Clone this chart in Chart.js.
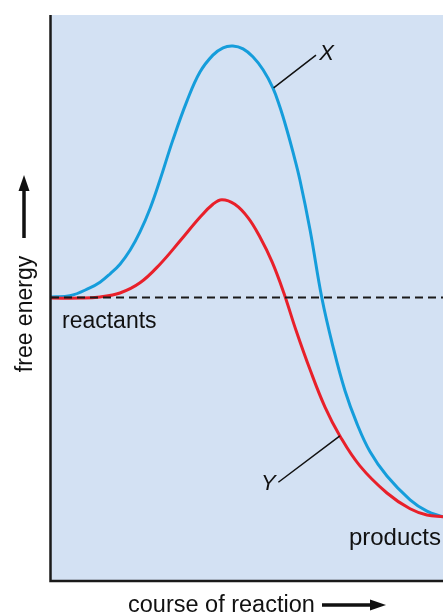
<!DOCTYPE html>
<html>
<head>
<meta charset="utf-8">
<script src="https://cdn.jsdelivr.net/npm/chart.js@4"></script>
<style>
  html, body { margin: 0; padding: 0; background: #fff; }
  #energyChart { display: block; }
</style>
</head>
<body>
<canvas id="energyChart" width="443" height="615"></canvas>
<script>
// ===================== DATA =====================
// course of reaction (0..100) and free energy (0..100)
const courseX = [0, 4.8, 9.9, 12.5, 15.1, 17.6, 20.2, 22.7, 25.3, 27.8, 31.1, 34.7, 38.0, 41.3, 43.9, 46.4, 49.0, 51.5, 54.1, 56.6, 58.4, 60.2, 61.7, 63.5, 66.1, 69.1, 71.9, 75.0, 78.1, 81.4, 85.7, 91.6, 95.9, 100];
const energyX = [50.1, 50.3, 51.7, 52.7, 54.2, 55.9, 58.4, 61.6, 65.8, 70.8, 77.9, 84.8, 89.9, 92.9, 94.2, 94.5, 94.0, 92.6, 90.3, 87.1, 83.7, 79.6, 75.8, 70.8, 61.9, 49.9, 41.4, 33.5, 27.6, 22.7, 18.4, 14.2, 12.2, 11.2];

const courseY = [0, 7.4, 12.5, 17.6, 22.7, 27.8, 32.9, 38.0, 41.3, 43.6, 46.9, 50.3, 53.3, 56.4, 59.4, 62.5, 66.1, 69.9, 73.7, 78.8, 85.7, 91.6, 95.9, 100];
const energyY = [49.9, 49.9, 50.1, 50.8, 52.6, 55.9, 60.0, 64.2, 66.5, 67.3, 66.5, 64.1, 60.7, 56.3, 50.8, 44.2, 37.2, 30.6, 25.5, 20.2, 15.4, 12.6, 11.5, 11.2];

const reactantLevel = 50;
const curveLabels = ["X", "Y"];
const axisTitles = ["free energy", "course of reaction"];
const stateLabels = ["reactants", "products"];

function toPoints(xs, ys) {
  return xs.map((x, i) => ({ x: x, y: ys[i] }));
}

// ===================== DECORATION PLUGIN =====================
const FONT = '"Liberation Sans", Arial, Helvetica, sans-serif';

function arrowHead(ctx, x, y, dir) {
  // dir: "up" or "right"
  ctx.beginPath();
  if (dir === "up") {
    ctx.moveTo(x, y);
    ctx.lineTo(x - 5.5, y + 16);
    ctx.lineTo(x + 5.5, y + 16);
  } else {
    ctx.moveTo(x, y);
    ctx.lineTo(x - 16, y - 5.5);
    ctx.lineTo(x - 16, y + 5.5);
  }
  ctx.closePath();
  ctx.fill();
}

const decor = {
  id: "decor",
  beforeDraw(chart) {
    const { ctx, chartArea: a } = chart;
    ctx.save();
    ctx.fillStyle = "#d3e1f3";
    ctx.fillRect(a.left, a.top, a.right - a.left, a.bottom - a.top);
    ctx.restore();
  },
  afterDraw(chart) {
    const { ctx, chartArea: a, scales } = chart;
    const xs = scales.x, ys = scales.y;
    ctx.save();

    // axis lines
    ctx.strokeStyle = "#1a1a1a";
    ctx.lineWidth = 2.5;
    ctx.beginPath();
    ctx.moveTo(a.left - 0.5, a.top);
    ctx.lineTo(a.left - 0.5, a.bottom + 1);
    ctx.lineTo(a.right, a.bottom + 1);
    ctx.stroke();

    ctx.fillStyle = "#111";
    ctx.textBaseline = "alphabetic";

    // y title + arrow
    ctx.save();
    ctx.translate(32, 314);
    ctx.rotate(-Math.PI / 2);
    ctx.font = "23px " + FONT;
    ctx.textAlign = "center";
    ctx.fillText(axisTitles[0], 0, 0);
    ctx.restore();
    ctx.lineWidth = 3.5;
    ctx.strokeStyle = "#111";
    ctx.beginPath();
    ctx.moveTo(24, 238);
    ctx.lineTo(24, 188);
    ctx.stroke();
    arrowHead(ctx, 24, 175, "up");

    // x title + arrow
    ctx.font = "23.5px " + FONT;
    ctx.textAlign = "left";
    ctx.fillText(axisTitles[1], 128, 612);
    ctx.lineWidth = 3.5;
    ctx.beginPath();
    ctx.moveTo(322, 605);
    ctx.lineTo(372, 605);
    ctx.stroke();
    arrowHead(ctx, 386, 605, "right");

    // state labels
    ctx.font = "23px " + FONT;
    ctx.fillText(stateLabels[0], xs.getPixelForValue(2.8), ys.getPixelForValue(reactantLevel) + 30);
    ctx.font = "24px " + FONT;
    ctx.fillText(stateLabels[1], xs.getPixelForValue(76), ys.getPixelForValue(energyX[energyX.length - 1]) + 28);

    // curve labels with leader lines
    ctx.lineWidth = 1.5;
    ctx.strokeStyle = "#111";
    ctx.beginPath();
    ctx.moveTo(xs.getPixelForValue(56.8), ys.getPixelForValue(87.1));
    ctx.lineTo(xs.getPixelForValue(67.6), ys.getPixelForValue(92.9));
    ctx.moveTo(xs.getPixelForValue(73.7), ys.getPixelForValue(25.5));
    ctx.lineTo(xs.getPixelForValue(58.0), ys.getPixelForValue(17.3));
    ctx.stroke();

    ctx.font = "italic 22px " + FONT;
    ctx.fillText(curveLabels[0], xs.getPixelForValue(68.4), ys.getPixelForValue(92.0));
    ctx.fillText(curveLabels[1], xs.getPixelForValue(53.6), ys.getPixelForValue(16.0));

    ctx.restore();
  }
};

// ===================== CHART =====================
const ctx = document.getElementById("energyChart").getContext("2d");

new Chart(ctx, {
  type: "line",
  data: {
    datasets: [
      {
        label: "reactants level",
        data: [{ x: 0, y: reactantLevel }, { x: 100, y: reactantLevel }],
        borderColor: "#1a1a1a",
        borderWidth: 2,
        borderDash: [8, 5],
        pointRadius: 0
      },
      {
        label: curveLabels[1],
        data: toPoints(courseY, energyY),
        borderColor: "#e8202a",
        borderWidth: 3,
        pointRadius: 0,
        tension: 0.4
      },
      {
        label: curveLabels[0],
        data: toPoints(courseX, energyX),
        borderColor: "#159ddb",
        borderWidth: 3,
        pointRadius: 0,
        tension: 0.4
      }
    ]
  },
  options: {
    responsive: false,
    animation: false,
    layout: { padding: { left: 51, top: 15, right: 0, bottom: 35 } },
    plugins: {
      legend: { display: false },
      tooltip: { enabled: false }
    },
    scales: {
      x: { type: "linear", min: 0, max: 100, display: false },
      y: { type: "linear", min: 0, max: 100, display: false }
    }
  },
  plugins: [decor]
});
</script>
</body>
</html>
